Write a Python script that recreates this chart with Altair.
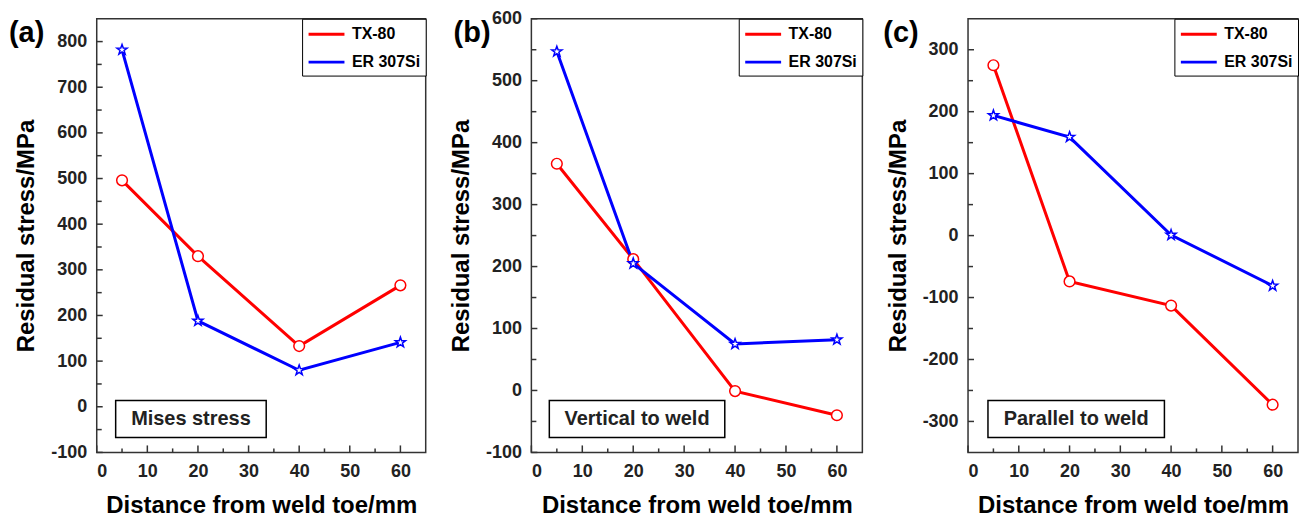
import altair as alt
import pandas as pd

# ---------------- data ----------------
distance = [5, 20, 40, 60]
series_names = ["TX-80", "ER 307Si"]
series_colors = ["#ff0000", "#0000ff"]

a_tx80 = [496, 330, 133, 266]
a_er307 = [782, 188, 80, 141]
b_tx80 = [366, 212, -1, -40]
b_er307 = [547, 205, 75, 82]
c_tx80 = [275, -74, -113, -273]
c_er307 = [194, 159, 1, -81]

panel_letters = ["(a)", "(b)", "(c)"]
panel_notes = ["Mises stress", "Vertical to weld", "Parallel to weld"]

x_domain = [0, 65]
x_major = [0, 10, 20, 30, 40, 50, 60]
x_minor = [5, 15, 25, 35, 45, 55]

y_domains = [[-100, 850], [-100, 600], [-350, 350]]
y_major = [
    [-100, 0, 100, 200, 300, 400, 500, 600, 700, 800],
    [-100, 0, 100, 200, 300, 400, 500, 600],
    [-300, -200, -100, 0, 100, 200, 300],
]
y_minor = [
    [-50, 50, 150, 250, 350, 450, 550, 650, 750],
    [-50, 50, 150, 250, 350, 450, 550],
    [-250, -150, -50, 50, 150, 250],
]

# ---------------- layout / style ----------------
FONT = "Liberation Sans"
H = 435
widths = [330, 332, 331]
note_box = [(19, 170), (18, 194), (20, 197)]
letter_x = [-88, -78, -85]
STAR = ("M0,-1L0.235,-0.324L0.951,-0.309L0.38,0.124L0.588,0.809L0,0.4"
        "L-0.588,0.809L-0.38,0.124L-0.951,-0.309L-0.235,-0.324Z")
marker_shapes = ["circle", STAR]
FRAME = "#333333"


def panel(i, tx, er):
    W = widths[i]
    values = [tx, er]
    df = pd.DataFrame({
        "x": distance + distance,
        "y": tx + er,
        "series": [series_names[0]] * len(distance) + [series_names[1]] * len(distance),
    })
    xs = alt.Scale(domain=x_domain, nice=False, zero=False)
    ys = alt.Scale(domain=y_domains[i], nice=False, zero=False)
    xaxis = alt.Axis(values=x_major, title="Distance from weld toe/mm",
                     labelExpr="'' + datum.value", labelPadding=10, titlePadding=13)
    yaxis = alt.Axis(values=y_major[i], title="Residual stress/MPa",
                     labelExpr="'' + datum.value", labelPadding=10, titlePadding=12)
    X = alt.X("x:Q", scale=xs, axis=xaxis)
    Y = alt.Y("y:Q", scale=ys, axis=yaxis)

    legend = alt.Legend(
        orient="top-right", offset=0, title=None,
        strokeColor="black", fillColor="white", cornerRadius=0,
        padding=5, rowPadding=9,
        symbolType="M-2,0H2", symbolSize=324, symbolStrokeWidth=3,
        symbolOffset=9, labelOffset=15,
        labelFont=FONT, labelFontSize=16, labelFontWeight="bold", labelColor="black",
    )

    lines = alt.Chart(df).mark_line(strokeWidth=3).encode(
        x=X, y=Y,
        color=alt.Color("series:N", scale=alt.Scale(domain=series_names, range=series_colors),
                        legend=legend),
    )
    point_layers = []
    for k in range(len(series_names)):
        pdf = pd.DataFrame({"x": distance, "y": values[k]})
        point_layers.append(
            alt.Chart(pdf).mark_point(shape=marker_shapes[k], filled=True, fill="white",
                                      stroke=series_colors[k], opacity=1, size=115,
                                      strokeWidth=1.5).encode(x=X, y=Y)
        )

    xt_major = alt.Chart(pd.DataFrame({"x": x_major})).mark_rule(
        color=FRAME, strokeWidth=1.5).encode(x=X, y=alt.value(H), y2=alt.value(H - 7))
    xt_minor = alt.Chart(pd.DataFrame({"x": x_minor})).mark_rule(
        color=FRAME, strokeWidth=1.5).encode(x=X, y=alt.value(H), y2=alt.value(H - 4))
    yt_major = alt.Chart(pd.DataFrame({"y": y_major[i]})).mark_rule(
        color=FRAME, strokeWidth=1.5).encode(y=Y, x=alt.value(0), x2=alt.value(6))
    yt_minor = alt.Chart(pd.DataFrame({"y": y_minor[i]})).mark_rule(
        color=FRAME, strokeWidth=1.5).encode(y=Y, x=alt.value(0), x2=alt.value(5))

    note_df = pd.DataFrame({"note": [panel_notes[i]], "letter": [panel_letters[i]]})
    bx0, bx1 = note_box[i]
    box = alt.Chart(note_df).mark_rect(fill="white", stroke="black", strokeWidth=1.5).encode(
        x=alt.value(bx0), x2=alt.value(bx1), y=alt.value(383), y2=alt.value(420))
    note = alt.Chart(note_df).mark_text(font=FONT, fontSize=20, fontWeight="bold",
                                        color="#222222", align="center",
                                        baseline="middle").encode(
        text="note:N", x=alt.value((bx0 + bx1) / 2), y=alt.value(402))
    letter = alt.Chart(note_df).mark_text(font=FONT, fontSize=29, fontWeight="bold",
                                          color="black", align="left",
                                          baseline="middle").encode(
        text="letter:N", x=alt.value(letter_x[i]), y=alt.value(14))

    return alt.layer(xt_major, xt_minor, yt_major, yt_minor, box, note,
                     lines, *point_layers, letter).properties(width=W, height=H)


chart = alt.hconcat(
    panel(0, a_tx80, a_er307),
    panel(1, b_tx80, b_er307),
    panel(2, c_tx80, c_er307),
    spacing=106,
).properties(
    bounds="flush",
    padding={"left": 0, "top": 0, "right": 0, "bottom": 0},
).resolve_scale(
    color="independent", x="independent", y="independent",
).resolve_legend(color="independent").configure_view(
    stroke=FRAME, strokeWidth=1.5
).configure_axis(
    domain=False, ticks=False, tickSize=0, grid=False,
    labelFont=FONT, labelFontSize=18, labelFontWeight="bold", labelColor="#222222",
    titleFont=FONT, titleFontSize=24, titleFontWeight="bold", titleColor="black",
)

chart.save("out.html", embed_options={"renderer": "svg", "actions": False})
